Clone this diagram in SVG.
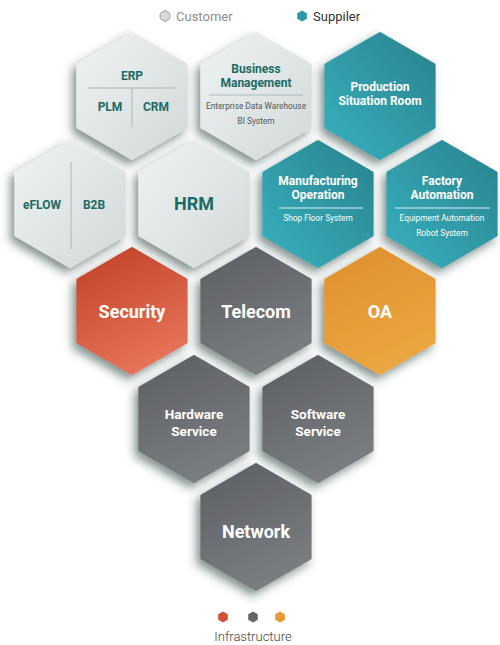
<svg xmlns="http://www.w3.org/2000/svg" xmlns:xlink="http://www.w3.org/1999/xlink" width="500" height="645" viewBox="0 0 500 645">
<style>
text{font-family:Roboto,"Liberation Sans",sans-serif;text-anchor:middle}
.tb{font-weight:bold;font-size:12px}
.tm{font-weight:bold;font-size:13.5px}
.tl{font-weight:bold;font-size:18px}
.ts{font-size:8.3px}
.teal{fill:#1b6b68}
.wh{fill:#ffffff}
.gr{fill:#505858}
.sep{stroke:#a9b8bc;stroke-width:1}
.sepw{stroke:#d8f0f2;stroke-width:1}
.hx{stroke-linejoin:round;stroke-width:3;filter:url(#sh)}
.leg{font-size:13px;text-anchor:start}
</style>
<defs>
<path id="hex" d="M0,-62.5 L54.1,-31.25 L54.1,31.25 L0,62.5 L-54.1,31.25 L-54.1,-31.25 Z"/>
<path id="mini" d="M0,-5.5 L4.8,-2.75 L4.8,2.75 L0,5.5 L-4.8,2.75 L-4.8,-2.75 Z"/>
<linearGradient id="gc" x1="0" y1="0" x2="1" y2="1"><stop offset="0" stop-color="#eff2f2"/><stop offset="1" stop-color="#d2d9d9"/></linearGradient>
<linearGradient id="gs" x1="1" y1="0" x2="0" y2="1"><stop offset="0" stop-color="#2a838e"/><stop offset="1" stop-color="#37b0be"/></linearGradient>
<linearGradient id="gr" x1="0.3" y1="0" x2="0.7" y2="1"><stop offset="0" stop-color="#c4462b"/><stop offset="1" stop-color="#e8765c"/></linearGradient>
<linearGradient id="gg" x1="0.3" y1="0" x2="0.7" y2="1"><stop offset="0" stop-color="#5e6165"/><stop offset="1" stop-color="#7c8084"/></linearGradient>
<linearGradient id="go" x1="0.3" y1="0" x2="0.7" y2="1"><stop offset="0" stop-color="#df9230"/><stop offset="1" stop-color="#eca842"/></linearGradient>
<filter id="sh" x="-30%" y="-30%" width="160%" height="160%">
<feDropShadow dx="-4" dy="5" stdDeviation="5" flood-color="#1e3a35" flood-opacity="0.55"/>
</filter>
</defs>
<rect width="500" height="645" fill="#ffffff"/>

<g id="legend-top">
<use xlink:href="#mini" transform="translate(165,16)" fill="#d6dcdc" stroke="#9aa3a3" stroke-width="1"/>
<text class="leg" x="176" y="21" fill="#8a8f8f">Customer</text>
<use xlink:href="#mini" transform="translate(302,16)" fill="#2b98a5"/>
<text class="leg" x="313" y="21" fill="#333333">Suppiler</text>
</g>

<g id="erp">
<use xlink:href="#hex" class="hx" transform="translate(132,96)" fill="url(#gc)" stroke="url(#gc)"/>
<text class="tb teal" x="132" y="80">ERP</text>
<line class="sep" x1="88" y1="88" x2="176" y2="88"/>
<line class="sep" x1="132" y1="88" x2="132" y2="127"/>
<text class="tb teal" x="110" y="111">PLM</text>
<text class="tb teal" x="156" y="111">CRM</text>
</g>

<g id="business-management">
<use xlink:href="#hex" class="hx" transform="translate(256,96)" fill="url(#gc)" stroke="url(#gc)"/>
<text class="tb teal" x="256" y="73">Business</text>
<text class="tb teal" x="256" y="87">Management</text>
<line class="sep" x1="209" y1="95" x2="303" y2="95"/>
<text class="ts gr" x="256" y="109">Enterprise Data Warehouse</text>
<text class="ts gr" x="256" y="124">BI System</text>
</g>

<g id="production-situation-room">
<use xlink:href="#hex" class="hx" transform="translate(380,96)" fill="url(#gs)" stroke="url(#gs)"/>
<text class="tb wh" x="380" y="91">Production</text>
<text class="tb wh" x="380" y="105">Situation Room</text>
</g>

<g id="eflow-b2b">
<use xlink:href="#hex" class="hx" transform="translate(70,204)" fill="url(#gc)" stroke="url(#gc)"/>
<line class="sep" x1="71" y1="162" x2="71" y2="249"/>
<text class="tb teal" x="42" y="209">eFLOW</text>
<text class="tb teal" x="94" y="209">B2B</text>
</g>

<g id="hrm">
<use xlink:href="#hex" class="hx" transform="translate(194,204)" fill="url(#gc)" stroke="url(#gc)"/>
<text class="tl teal" x="194" y="210">HRM</text>
</g>

<g id="manufacturing-operation">
<use xlink:href="#hex" class="hx" transform="translate(318,204)" fill="url(#gs)" stroke="url(#gs)"/>
<text class="tb wh" x="318" y="185">Manufacturing</text>
<text class="tb wh" x="318" y="199">Operation</text>
<line class="sepw" x1="279" y1="208" x2="363" y2="208"/>
<text class="ts wh" x="318" y="221">Shop Floor System</text>
</g>

<g id="factory-automation">
<use xlink:href="#hex" class="hx" transform="translate(442,204)" fill="url(#gs)" stroke="url(#gs)"/>
<text class="tb wh" x="442" y="185">Factory</text>
<text class="tb wh" x="442" y="199">Automation</text>
<line class="sepw" x1="395" y1="208" x2="490" y2="208"/>
<text class="ts wh" x="442" y="221">Equipment Automation</text>
<text class="ts wh" x="442" y="236">Robot System</text>
</g>

<g id="security">
<use xlink:href="#hex" class="hx" transform="translate(132,311)" fill="url(#gr)" stroke="url(#gr)"/>
<text class="tl wh" x="132" y="318">Security</text>
</g>

<g id="telecom">
<use xlink:href="#hex" class="hx" transform="translate(256,311)" fill="url(#gg)" stroke="url(#gg)"/>
<text class="tl wh" x="256" y="318">Telecom</text>
</g>

<g id="oa">
<use xlink:href="#hex" class="hx" transform="translate(380,311)" fill="url(#go)" stroke="url(#go)"/>
<text class="tl wh" x="380" y="318">OA</text>
</g>

<g id="hardware-service">
<use xlink:href="#hex" class="hx" transform="translate(194,419)" fill="url(#gg)" stroke="url(#gg)"/>
<text class="tm wh" x="194" y="419">Hardware</text>
<text class="tm wh" x="194" y="436">Service</text>
</g>

<g id="software-service">
<use xlink:href="#hex" class="hx" transform="translate(318,419)" fill="url(#gg)" stroke="url(#gg)"/>
<text class="tm wh" x="318" y="419">Software</text>
<text class="tm wh" x="318" y="436">Service</text>
</g>

<g id="network">
<use xlink:href="#hex" class="hx" transform="translate(256,527)" fill="url(#gg)" stroke="url(#gg)"/>
<text class="tl wh" x="256" y="538">Network</text>
</g>

<g id="legend-bottom">
<use xlink:href="#mini" transform="translate(223,617)" fill="#d2513a"/>
<use xlink:href="#mini" transform="translate(253,617)" fill="#62666a"/>
<use xlink:href="#mini" transform="translate(280,617)" fill="#e59a35"/>
<text x="253" y="641" font-size="13" font-weight="300" fill="#444444">Infrastructure</text>
</g>
</svg>
